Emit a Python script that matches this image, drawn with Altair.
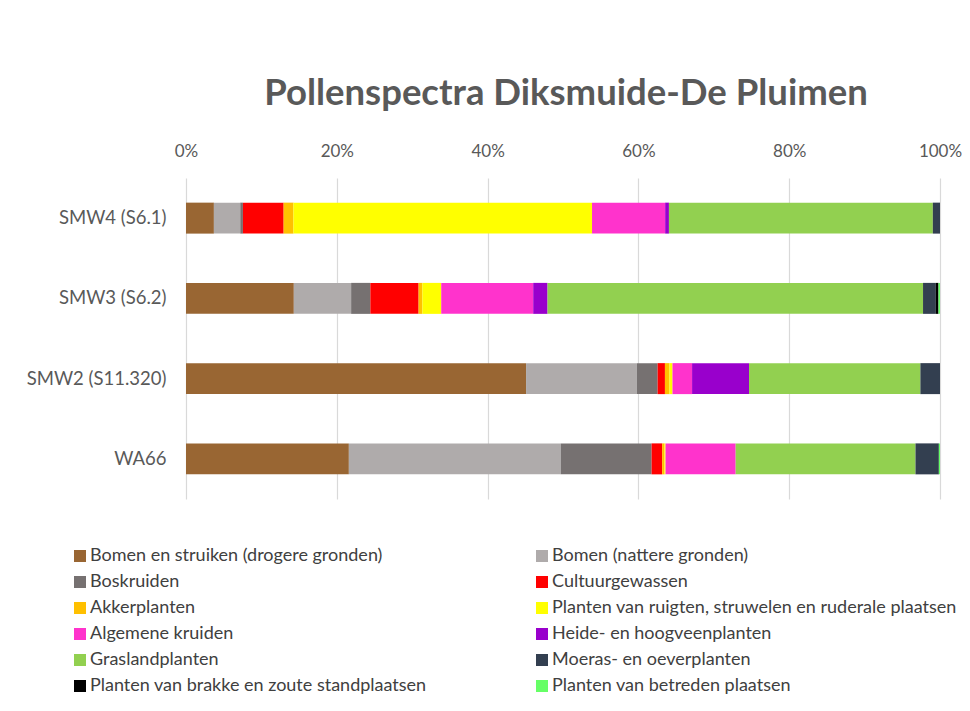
import altair as alt
import pandas as pd

samples = ["SMW4 (S6.1)", "SMW3 (S6.2)", "SMW2 (S11.320)", "WA66"]
categories = [
    "Bomen en struiken (drogere gronden)",
    "Bomen (nattere gronden)",
    "Boskruiden",
    "Cultuurgewassen",
    "Akkerplanten",
    "Planten van ruigten, struwelen en ruderale plaatsen",
    "Algemene kruiden",
    "Heide- en hoogveenplanten",
    "Graslandplanten",
    "Moeras- en oeverplanten",
    "Planten van brakke en zoute standplaatsen",
    "Planten van betreden plaatsen",
]
colors = ["#996633", "#AFABAB", "#767171", "#FF0000", "#FFC000", "#FFFF00",
          "#FF33CC", "#9900CC", "#92D050", "#333F50", "#000000", "#66FF66"]

# percentages per sample, in category order
smw4 = [3.7, 3.5, 0.35, 5.4, 1.3, 39.6, 9.7, 0.5, 35.0, 0.95, 0.0, 0.0]
smw3 = [14.3, 7.6, 2.55, 6.4, 0.5, 2.5, 12.2, 1.9, 49.8, 1.7, 0.35, 0.2]
smw2 = [45.1, 14.7, 2.75, 0.97, 0.6, 0.4, 2.6, 7.55, 22.73, 2.6, 0.0, 0.0]
wa66 = [21.6, 28.1, 12.05, 1.4, 0.3, 0.15, 9.3, 0.0, 23.85, 3.1, 0.0, 0.15]

rows = []
for s, vals in zip(samples, [smw4, smw3, smw2, wa66]):
    for i, (c, v) in enumerate(zip(categories, vals)):
        rows.append({"sample": s, "group": c, "idx": i, "value": v / 100})
df = pd.DataFrame(rows)

font = "Lato"
grey = "#595959"

chart = alt.Chart(df).mark_bar().encode(
    x=alt.X("value:Q", stack="zero",
            scale=alt.Scale(domain=[0, 1], nice=False),
            axis=alt.Axis(orient="top", format="%", values=[0, 0.2, 0.4, 0.6, 0.8, 1],
                          title=None, ticks=False, domain=False, gridColor="#d9d9d9",
                          gridWidth=1.2, labelFontSize=17, labelColor=grey,
                          labelPadding=18, labelFont=font, labelFlush=False)),
    y=alt.Y("sample:N", sort=samples,
            scale=alt.Scale(paddingInner=0.614, paddingOuter=0.307),
            axis=alt.Axis(title=None, ticks=False, domain=False, labelFontSize=18.5,
                          labelColor=grey, labelPadding=20, labelFont=font)),
    color=alt.Color("group:N", scale=alt.Scale(domain=categories, range=colors),
                    legend=alt.Legend(orient="none", legendX=-115, legendY=369,
                                      direction="horizontal",
                                      columns=2, symbolType="square", symbolSize=144,
                                      symbolStrokeWidth=0, labelFontSize=18,
                                      labelFont=font, labelColor="#404040",
                                      title=None, gridAlign="each", columnPadding=106,
                                      rowPadding=8, labelOffset=1, labelLimit=600,
                                      padding=0)),
    order=alt.Order("idx:Q", sort="ascending"),
).properties(
    width=754, height=321,
    title=alt.TitleParams("Pollenspectra Diksmuide-De Pluimen", font=font, fontSize=36.5,
                          fontWeight="bold", color=grey, anchor="middle", offset=30,
                          dx=3),
    autosize=alt.AutoSizeParams(type="none"),
    padding={"left": 178, "top": 170, "right": 22, "bottom": 200},
).configure_view(stroke=None)

chart.save("out.html", embed_options={"renderer": "svg", "actions": False})
